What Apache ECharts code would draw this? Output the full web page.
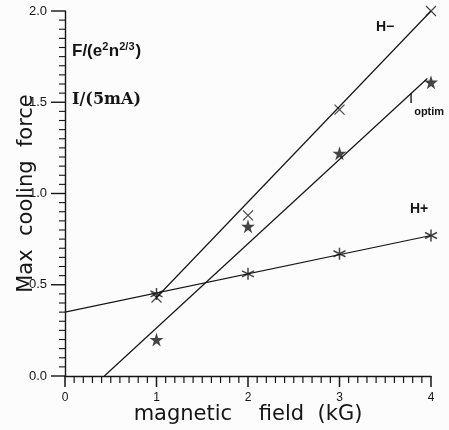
<!DOCTYPE html>
<html>
<head>
<meta charset="utf-8">
<script src="https://cdn.jsdelivr.net/npm/echarts@6/dist/echarts.min.js"></script>
<style>
  html, body { margin: 0; padding: 0; background: #fcfcfc; }
  #chart { width: 449px; height: 430px; }
</style>
</head>
<body>
<div id="chart"></div>
<script>
// Magnetic field values (kG) at which the cooling force was measured
const fieldKG = [1, 2, 3, 4];

// Max cooling force, F/(e^2 n^(2/3)), for each beam
const hMinus = [0.43, 0.88, 1.46, 2.00];
const hPlus  = [0.45, 0.56, 0.67, 0.77];
// Optimal-current points, scaled as I/(5mA)
const iOptim = [0.20, 0.82, 1.22, 1.61];

// Straight-line fits: end points (field, force)
const hMinusFitX = [1.0, 4.0];
const hMinusFitY = [0.43, 2.0];
const iOptimFitX = [0.43, 3.96];
const iOptimFitY = [0.0, 1.63];
const hPlusFitX  = [0.0, 4.0];
const hPlusFitY  = [0.35, 0.77];

// Axis tick settings (major and minor steps)
const xTicks = { min: 0, max: 4, step: 1, minor: 0.1 };
const yTicks = { min: 0, max: 2, step: 0.5, minor: 0.05 };

const ink = '#151515';
const pair = (xs, ys) => xs.map((x, i) => [x, ys[i]]);

const crossPath = 'path://M0,0L10,10M10,0L0,10';
const asteriskPath = 'path://M5,0L5,10M0.7,2.5L9.3,7.5M0.7,7.5L9.3,2.5';
const starPath = 'path://M50,0L61,35L98,35L68,57L79,91L50,70L21,91L32,57L2,35L39,35Z';

function fitLine(name, xs, ys) {
  return {
    name, type: 'line', data: pair(xs, ys), symbol: 'none',
    lineStyle: { color: ink, width: 1.2 }, silent: true, z: 2
  };
}

// Every tick value along an axis, flagged major or minor
function tickValues(t) {
  const out = [];
  const n = Math.round((t.max - t.min) / t.minor);
  for (let i = 0; i <= n; i++) {
    const v = +(t.min + i * t.minor).toFixed(4);
    const major = Math.abs(v / t.step - Math.round(v / t.step)) < 1e-6;
    out.push({ v, major });
  }
  return out;
}

// Lay out a run of text pieces left to right (used for the super/subscripted labels)
const measureCtx = document.createElement('canvas').getContext('2d');
function textRun(left, top, pieces) {
  let x = left;
  return pieces.map(p => {
    measureCtx.font = `${p.weight || 'normal'} ${p.size}px "${p.family}"`;
    const w = measureCtx.measureText(p.text).width;
    const el = {
      type: 'text', x: x, y: top + (p.dy || 0), z: 10,
      style: {
        text: p.text, fontFamily: p.family, fontWeight: p.weight || 'normal',
        fontSize: p.size, fill: ink, verticalAlign: 'top'
      }
    };
    x += w + (p.gap || 0);
    return el;
  });
}

const lab = 'Liberation Sans';
const fLabel = textRun(72, 43, [
  { text: 'F/(e', size: 17, weight: 'bold', family: lab },
  { text: '2', size: 11, weight: 'bold', family: lab, dy: -2, gap: 0.5 },
  { text: 'n', size: 17, weight: 'bold', family: lab },
  { text: '2/3', size: 11, weight: 'bold', family: lab, dy: -2, gap: 1 },
  { text: ')', size: 17, weight: 'bold', family: lab }
]);
const optimLabel = textRun(409, 91, [
  { text: 'I', size: 15, weight: 'normal', family: lab, gap: 1 },
  { text: 'optim', size: 11, weight: 'bold', family: lab, dy: 15 }
]);

const labelGraphics = [
  ...fLabel,
  ...optimLabel,
  {
    type: 'text', left: 72, top: 92, z: 10,
    style: { text: 'I/(5mA)', fontFamily: 'DejaVu Serif', fontWeight: 'bold', fontSize: 16, fill: ink }
  },
  {
    type: 'text', left: 376, top: 20, z: 10,
    style: { text: 'H−', fontFamily: lab, fontWeight: 'bold', fontSize: 14, fill: ink }
  },
  {
    type: 'text', left: 410, top: 202, z: 10,
    style: { text: 'H+', fontFamily: lab, fontWeight: 'bold', fontSize: 14, fill: ink }
  }
];

const chart = echarts.init(document.getElementById('chart'), null, { renderer: 'canvas' });

chart.setOption({
  animation: false,
  backgroundColor: '#fcfcfc',
  grid: { left: 65, right: 18, top: 11, bottom: 54, containLabel: false, outerBoundsMode: 'none' },
  xAxis: {
    type: 'value', min: xTicks.min, max: xTicks.max, interval: xTicks.step,
    name: 'magnetic    field  (kG)', nameLocation: 'middle', nameGap: 28, nameMoveOverlap: false,
    nameTextStyle: { fontFamily: 'DejaVu Sans', fontSize: 21, color: ink },
    axisLine: { show: true, lineStyle: { color: ink, width: 1.4 } },
    axisTick: { show: false },
    axisLabel: { margin: 16, fontFamily: lab, fontSize: 12, color: ink },
    splitLine: { show: false }
  },
  yAxis: {
    type: 'value', min: yTicks.min, max: yTicks.max, interval: yTicks.step,
    name: 'Max  cooling  force', nameLocation: 'middle', nameGap: 28, nameRotate: 90, nameMoveOverlap: false,
    nameTextStyle: { fontFamily: 'DejaVu Sans', fontSize: 21, color: ink },
    axisLine: { show: true, lineStyle: { color: ink, width: 1.4 } },
    axisTick: { show: false },
    axisLabel: {
      margin: 18, fontFamily: lab, fontSize: 13, color: ink,
      formatter: v => v.toFixed(1)
    },
    splitLine: { show: false }
  },
  series: [
    fitLine('H− fit', hMinusFitX, hMinusFitY),
    fitLine('I optim fit', iOptimFitX, iOptimFitY),
    fitLine('H+ fit', hPlusFitX, hPlusFitY),
    {
      name: 'H−', type: 'scatter', data: pair(fieldKG, hMinus),
      symbol: crossPath, symbolSize: 10, z: 3,
      itemStyle: { color: 'none', borderColor: ink, borderWidth: 1.2 }
    },
    {
      name: 'H+', type: 'scatter', data: pair(fieldKG, hPlus),
      symbol: asteriskPath, symbolSize: 12, z: 3,
      itemStyle: { color: 'none', borderColor: ink, borderWidth: 1.5 }
    },
    {
      name: 'I optim', type: 'scatter', data: pair(fieldKG, iOptim),
      symbol: starPath, symbolSize: 14, z: 3,
      itemStyle: { color: ink, borderWidth: 0 }
    }
  ],
  graphic: labelGraphics
});

// Tick marks on both axes, positioned through the axis scales
const toPx = val => chart.convertToPixel({ xAxisIndex: 0, yAxisIndex: 0 }, val);
const tickGraphics = [];
tickValues(xTicks).forEach(t => {
  const p = toPx([t.v, yTicks.min]);
  const len = t.major ? 11 : 7;
  const w = t.major ? 1.5 : 1.2;
  tickGraphics.push({
    type: 'rect', z: 9, silent: true,
    shape: { x: p[0] - w / 2, y: p[1], width: w, height: len },
    style: { fill: ink }
  });
});
tickValues(yTicks).forEach(t => {
  const p = toPx([xTicks.min, t.v]);
  const len = t.major ? 14 : 6;
  const w = t.major ? 1.4 : 1.1;
  tickGraphics.push({
    type: 'rect', z: 9, silent: true,
    shape: { x: p[0] - len, y: p[1] - w / 2, width: len, height: w },
    style: { fill: ink }
  });
});
chart.setOption({ graphic: labelGraphics.concat(tickGraphics) });
</script>
</body>
</html>
